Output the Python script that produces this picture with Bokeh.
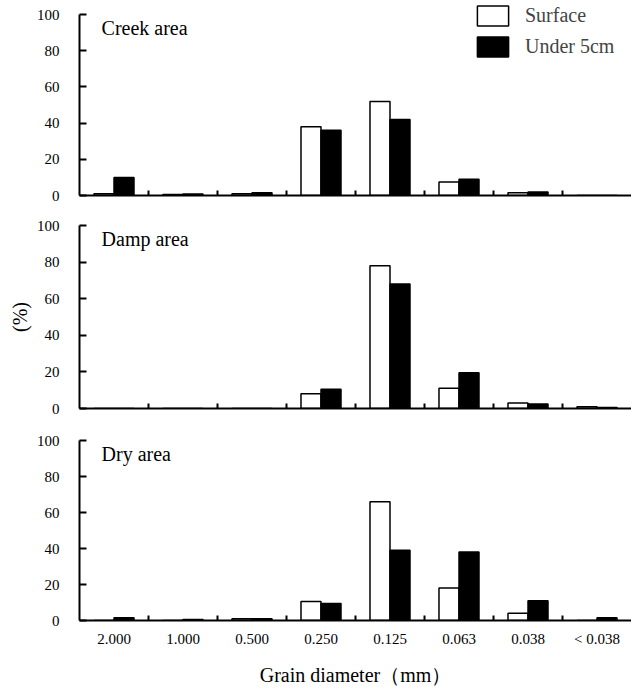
import numpy as np
from bokeh.plotting import figure
from bokeh.layouts import column
from bokeh.models import FixedTicker, Legend, LegendItem, Label, ColumnDataSource
from bokeh.transform import dodge
from bokeh.embed import file_html
from bokeh.resources import INLINE

categories = ["2.000", "1.000", "0.500", "0.250", "0.125", "0.063", "0.038", "< 0.038"]
panel_names = ["Creek area", "Damp area", "Dry area"]
creek_surface = [1.0, 0.5, 1.0, 38.0, 52.0, 7.5, 1.5, 0.0]
creek_under = [10.0, 0.8, 1.5, 36.0, 42.0, 9.0, 2.0, 0.0]
damp_surface = [0.0, 0.0, 0.0, 8.0, 78.0, 11.0, 3.0, 1.0]
damp_under = [0.0, 0.0, 0.0, 10.5, 68.0, 19.5, 2.5, 0.5]
dry_surface = [0.0, 0.0, 1.0, 10.5, 66.0, 18.0, 4.0, 0.0]
dry_under = [1.5, 0.5, 1.0, 9.5, 39.0, 38.0, 11.0, 1.5]
y_ticks = [0, 20, 40, 60, 80, 100]

FONT = "Liberation Serif"
series = [(creek_surface, creek_under), (damp_surface, damp_under), (dry_surface, dry_under)]
heights = [210, 210, 273]
borders = [(0, 15), (15, 12), (20, 73)]
y_ends = [100 * 195 / 181, 100, 100]
bw = 0.29
xc = [i + 0.5 for i in range(len(categories))]

figs = []
for k, (name, (surf, und)) in enumerate(zip(panel_names, series)):
    top_b, bot_b = borders[k]
    p = figure(width=631, height=heights[k], x_range=(0, len(categories)), y_range=(0, y_ends[k]),
               output_backend="svg", toolbar_location=None,
               min_border_left=79, min_border_right=0, min_border_top=top_b, min_border_bottom=bot_b)
    p.outline_line_color = None
    p.grid.visible = False
    p.background_fill_color = "white"
    p.border_fill_color = "white"

    src = ColumnDataSource(dict(x=xc, surface=surf, under=und))
    r1 = p.vbar(x=dodge("x", -bw / 2), top="surface", width=bw, source=src,
                fill_color="white", line_color="black", line_width=1.5)
    r2 = p.vbar(x=dodge("x", bw / 2), top="under", width=bw, source=src,
                fill_color="black", line_color="black", line_width=1.5)

    xa = p.xaxis[0]
    minor = list(range(1, len(categories)))
    xa.major_tick_in = 0
    xa.major_tick_out = 0
    xa.minor_tick_in = 5
    xa.minor_tick_out = 0
    xa.minor_tick_line_width = 2
    xa.axis_line_width = 2
    xa.axis_line_color = "black"
    xa.minor_tick_line_color = "black"
    xa.major_label_text_font = FONT
    xa.major_label_text_color = "black"
    if k < 2:
        xa.ticker = FixedTicker(ticks=[], minor_ticks=minor)
        xa.major_label_standoff = 0
    else:
        xa.ticker = FixedTicker(ticks=xc, minor_ticks=minor)
        xa.major_label_overrides = {float(v): c for v, c in zip(xc, categories)}
        xa.major_label_text_font_size = "15px"
        xa.major_label_standoff = 10
        xa.axis_label = "Grain diameter（mm）"
        xa.axis_label_text_font = FONT
        xa.axis_label_text_font_size = "20px"
        xa.axis_label_text_font_style = "normal"
        xa.axis_label_text_color = "black"
        xa.axis_label_standoff = 14

    ya = p.yaxis[0]
    ya.ticker = FixedTicker(ticks=y_ticks)
    ya.bounds = (0, 100)
    ya.major_tick_in = 7
    ya.major_tick_out = 0
    ya.minor_tick_in = 0
    ya.minor_tick_out = 0
    ya.major_tick_line_width = 2
    ya.axis_line_width = 2
    ya.axis_line_color = "black"
    ya.major_tick_line_color = "black"
    ya.major_label_text_font = FONT
    ya.major_label_text_font_size = "15px"
    ya.major_label_text_color = "black"
    ya.major_label_standoff = 20
    if k == 1:
        ya.axis_label = "(%)"
        ya.axis_label_text_font = FONT
        ya.axis_label_text_font_size = "20px"
        ya.axis_label_text_font_style = "normal"
        ya.axis_label_text_color = "black"
        ya.axis_label_standoff = 3

    p.add_layout(Label(x=0.32, y=92.5, text=name, text_font=FONT, text_font_size="20px",
                       text_color="black", text_baseline="alphabetic"))

    if k == 0:
        legend = Legend(items=[LegendItem(label="Surface", renderers=[r1]),
                               LegendItem(label="Under 5cm", renderers=[r2])],
                        location=(394, 136), padding=0, margin=0, spacing=6,
                        glyph_width=39, glyph_height=25, label_height=20, label_standoff=13,
                        label_text_font=FONT, label_text_font_size="20px",
                        border_line_color=None, background_fill_alpha=0)
        p.add_layout(legend)
    figs.append(p)

layout = column(*figs, spacing=0)
open("out.html", "w").write(file_html(layout, INLINE))
